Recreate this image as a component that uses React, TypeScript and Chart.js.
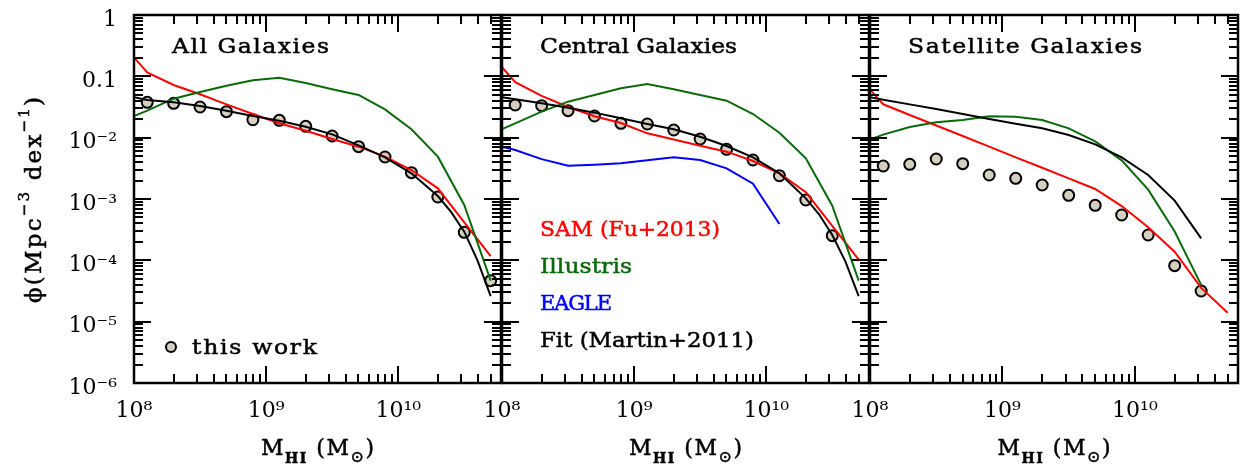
import React, { useEffect, useRef } from 'react';
import { Chart, registerables } from 'chart.js';

Chart.register(...registerables);

const FONT = '"DejaVu Serif", "DejaVu Sans", serif';
const W = 1247;
const H = 470;

// ---------- axis ticks ----------
const xTickExps = [8, 9, 10];
const xTickLabels = ['10⁸', '10⁹', '10¹⁰'];
const yTickExps = [-6, -5, -4, -3, -2, -1, 0];
const yTickLabels = ['10⁻⁶', '10⁻⁵', '10⁻⁴', '10⁻³', '10⁻²', '0.1', '1'];
const minorMantissas = [2, 3, 4, 5, 6, 7, 8, 9];
const xMin = 1e8;
const xMax = 6e10;
const yMin = 1e-6;
const yMax = 1;

// ---------- data: log10(M_HI) and log10(phi) ----------
const obsLogM = [8.1, 8.3, 8.5, 8.7, 8.9, 9.1, 9.3, 9.5, 9.7, 9.9, 10.1, 10.3, 10.5, 10.7];
const modelLogM = [8.0, 8.1, 8.3, 8.5, 8.7, 8.9, 9.1, 9.3, 9.5, 9.7, 9.9, 10.1, 10.3, 10.5, 10.7];
const fitLogM = [8.0, 8.1, 8.3, 8.5, 8.7, 8.9, 9.1, 9.3, 9.5, 9.7, 9.9, 10.1, 10.3, 10.4, 10.5, 10.6, 10.7];
const satFitLogM = [8.0, 8.1, 8.3, 8.5, 8.7, 8.9, 9.1, 9.3, 9.5, 9.7, 9.9, 10.1, 10.3, 10.5];

// All galaxies
const allObs = [-1.424, -1.44, -1.5, -1.576, -1.707, -1.717, -1.815, -1.973, -2.147, -2.315, -2.571, -2.967, -3.543, -4.332];
const allFit = [-1.342, -1.386, -1.424, -1.484, -1.56, -1.647, -1.723, -1.821, -1.946, -2.125, -2.321, -2.582, -2.951, -3.21, -3.533, -4.0, -4.582];
const allSAM = [-0.69, -0.935, -1.141, -1.293, -1.457, -1.614, -1.766, -1.886, -2.022, -2.147, -2.31, -2.527, -2.826, -3.38, -3.93];
const allIllustris = [-1.647, -1.56, -1.364, -1.256, -1.152, -1.065, -1.022, -1.11, -1.21, -1.304, -1.538, -1.864, -2.31, -3.098, -4.332];

// Central galaxies
const cenObs = [-1.467, -1.478, -1.56, -1.647, -1.766, -1.777, -1.875, -2.022, -2.19, -2.364, -2.62, -3.016, -3.598];
const cenFit = [-1.342, -1.375, -1.44, -1.511, -1.592, -1.685, -1.777, -1.864, -1.984, -2.136, -2.321, -2.582, -2.989, -3.25, -3.587, -4.02, -4.582];
const cenSAM = [-0.85, -1.095, -1.32, -1.5, -1.65, -1.76, -1.929, -2.03, -2.131, -2.228, -2.38, -2.582, -2.89, -3.44, -3.99];
const cenIllustris = [-1.859, -1.766, -1.576, -1.413, -1.304, -1.196, -1.125, -1.21, -1.304, -1.397, -1.614, -1.919, -2.337, -3.109, -4.332];
const cenEAGLE = [-2.147, -2.2, -2.35, -2.457, -2.44, -2.418, -2.37, -2.321, -2.364, -2.5, -2.75, -3.408];

// Satellite galaxies
const satObs = [-2.462, -2.435, -2.348, -2.424, -2.609, -2.663, -2.772, -2.94, -3.103, -3.261, -3.587, -4.087, -4.5];
const satFit = [-1.342, -1.381, -1.457, -1.533, -1.614, -1.696, -1.772, -1.848, -1.957, -2.109, -2.321, -2.609, -3.027, -3.641];
const satSAM = [-1.212, -1.456, -1.631, -1.802, -1.973, -2.147, -2.321, -2.49, -2.663, -2.837, -3.115, -3.46, -3.859, -4.45, -4.854];
const satIllustris = [-2.03, -1.95, -1.826, -1.75, -1.712, -1.652, -1.658, -1.712, -1.848, -2.06, -2.37, -2.848, -3.53, -4.4];

const RED = '#ff0000';
const GREEN = '#0a6a0a';
const BLUE = '#0000ff';
const BLACK = '#000000';
const DOT = '#d4cfbf';

const pts = (xs: number[], ys: number[]) => ys.map((y, i) => ({ x: Math.pow(10, xs[i]), y: Math.pow(10, y) }));

const lineDs = (xs: number[], ys: number[], color: string) => ({
  data: pts(xs, ys),
  showLine: true,
  borderColor: color,
  borderWidth: 2,
  pointRadius: 0,
  tension: 0,
  order: 1,
});
const obsDs = (xs: number[], ys: number[]) => ({
  data: pts(xs, ys),
  showLine: false,
  pointRadius: 5.5,
  pointBackgroundColor: DOT,
  pointBorderColor: BLACK,
  pointBorderWidth: 2,
  order: 5,
});

type Seg = { t: string; size: number; dy?: number; bold?: boolean };

function fitText(ctx: CanvasRenderingContext2D, text: string, x: number, y: number, width: number, color: string, size = 21) {
  ctx.save();
  ctx.font = `${size}px ${FONT}`;
  ctx.fillStyle = color;
  ctx.strokeStyle = color;
  ctx.lineWidth = 0.5;
  ctx.textAlign = 'left';
  ctx.textBaseline = 'alphabetic';
  (ctx as any).letterSpacing = '0px';
  const w0 = ctx.measureText(text).width;
  const n = [...text].length;
  const stretch = Math.min(1.12, Math.max(1, width / w0));
  const ls = n > 1 ? (width - w0 * stretch) / (n - 1) : 0;
  ctx.translate(x, y);
  ctx.scale(stretch, 1);
  (ctx as any).letterSpacing = `${ls / stretch}px`;
  ctx.fillText(text, 0, 0);
  ctx.strokeText(text, 0, 0);
  ctx.restore();
}

function drawRich(ctx: CanvasRenderingContext2D, segs: Seg[], cx: number, baseline: number, targetW: number) {
  ctx.save();
  ctx.fillStyle = '#000';
  ctx.strokeStyle = '#000';
  ctx.lineWidth = 0.5;
  ctx.textAlign = 'left';
  ctx.textBaseline = 'alphabetic';
  let nChars = 0;
  const widths = segs.map((s) => {
    ctx.font = `${s.bold ? 'bold ' : ''}${s.size}px ${FONT}`;
    (ctx as any).letterSpacing = '0px';
    nChars += [...s.t].length;
    return ctx.measureText(s.t).width;
  });
  const total = widths.reduce((a, b) => a + b, 0);
  const ls = (targetW - total) / Math.max(1, nChars - 1);
  let x = cx - targetW / 2;
  segs.forEach((s, i) => {
    ctx.font = `${s.bold ? 'bold ' : ''}${s.size}px ${FONT}`;
    (ctx as any).letterSpacing = `${ls}px`;
    ctx.fillText(s.t, x, baseline + (s.dy || 0));
    ctx.strokeText(s.t, x, baseline + (s.dy || 0));
    x += widths[i] + ls * [...s.t].length;
  });
  ctx.restore();
}

const xTitle: Seg[] = [
  { t: 'M', size: 22 },
  { t: 'HI', size: 14, bold: true, dy: 8 },
  { t: ' (M', size: 22 },
  { t: '⊙', size: 16, dy: 7 },
  { t: ')', size: 22 },
];
const yTitle: Seg[] = [
  { t: 'ϕ(Mpc', size: 23 },
  { t: '−3', size: 15, dy: -12 },
  { t: ' dex', size: 23 },
  { t: '−1', size: 15, dy: -12 },
  { t: ')', size: 23 },
];

type PanelCfg = {
  left: number;
  right: number;
  showY: boolean;
  title: string;
  titleX: number;
  titleW: number;
  datasets: any[];
  extra?: (ctx: CanvasRenderingContext2D) => void;
};

const PLOT_TOP = 15;
const PLOT_BOTTOM = 383;

function buildTicks(exps: number[], min: number, max: number) {
  const out: { value: number; major: boolean }[] = [];
  exps.forEach((e) => {
    const base = Math.pow(10, e);
    if (base >= min * 0.999 && base <= max * 1.001) out.push({ value: base, major: true });
    minorMantissas.forEach((m) => {
      const v = m * base;
      if (v >= min && v <= max * 1.001) out.push({ value: v, major: false });
    });
  });
  return out;
}

function labelFor(v: number, exps: number[], labels: string[]) {
  const l = Math.log10(v);
  const r = Math.round(l);
  if (Math.abs(l - r) > 1e-6) return '';
  const i = exps.indexOf(r);
  return i >= 0 ? labels[i] : '';
}

const zeroPad = (s: any) => {
  s.paddingTop = 0;
  s.paddingBottom = 0;
  s.paddingLeft = 0;
  s.paddingRight = 0;
};

function Panel({ cfg }: { cfg: PanelCfg }) {
  const ref = useRef<HTMLCanvasElement>(null);
  useEffect(() => {
    const canvas = ref.current!;
    const deco = {
      id: 'deco',
      afterDatasetsDraw(chart: any) {
        const { ctx, chartArea: a, scales } = chart;
        const x = scales.x;
        const y = scales.y;
        ctx.save();
        ctx.strokeStyle = '#000';
        ctx.lineWidth = 2;
        ctx.beginPath();
        x.ticks.forEach((t: any) => {
          const px = Math.round(x.getPixelForValue(t.value));
          const len = t.major ? 17 : 9;
          ctx.moveTo(px, a.bottom);
          ctx.lineTo(px, a.bottom - len);
          ctx.moveTo(px, a.top);
          ctx.lineTo(px, a.top + len);
        });
        y.ticks.forEach((t: any) => {
          const py = Math.round(y.getPixelForValue(t.value));
          const len = t.major ? 17 : 9;
          ctx.moveTo(a.left, py);
          ctx.lineTo(a.left + len, py);
          ctx.moveTo(a.right, py);
          ctx.lineTo(a.right - len, py);
        });
        ctx.stroke();
        ctx.lineWidth = 2.5;
        ctx.strokeRect(a.left, a.top, a.right - a.left, a.bottom - a.top);
        ctx.restore();
      },
      afterDraw(chart: any) {
        const { ctx, chartArea: a } = chart;
        fitText(ctx, cfg.title, cfg.titleX, 53, cfg.titleW, '#000');
        drawRich(ctx, xTitle, (a.left + a.right) / 2, 455, 113);
        if (cfg.extra) cfg.extra(ctx);
      },
    };
    const chart = new Chart(canvas, {
      type: 'scatter',
      data: { datasets: cfg.datasets },
      options: {
        responsive: false,
        animation: false,
        events: [],
        layout: {
          padding: { left: cfg.showY ? 0 : cfg.left, right: W - cfg.right, top: PLOT_TOP, bottom: 0 },
        },
        plugins: { legend: { display: false }, tooltip: { enabled: false } },
        scales: {
          x: {
            type: 'logarithmic',
            position: 'bottom',
            min: xMin,
            max: xMax,
            grid: { display: false, drawTicks: false },
            border: { display: false },
            afterBuildTicks: (s: any) => {
              s.ticks = buildTicks(xTickExps, xMin, xMax);
            },
            afterFit: (s: any) => {
              s.height = H - PLOT_BOTTOM;
              zeroPad(s);
            },
            ticks: {
              autoSkip: false,
              maxRotation: 0,
              minRotation: 0,
              padding: 15,
              color: '#000',
              font: { family: FONT, size: 22 },
              callback: (v: any) => labelFor(Number(v), xTickExps, xTickLabels),
            },
          },
          y: {
            type: 'logarithmic',
            position: 'left',
            min: yMin,
            max: yMax,
            grid: { display: false, drawTicks: false },
            border: { display: false },
            afterBuildTicks: (s: any) => {
              s.ticks = buildTicks(yTickExps, yMin, yMax);
            },
            afterFit: (s: any) => {
              s.width = cfg.showY ? cfg.left : 0;
              zeroPad(s);
            },
            ticks: {
              display: cfg.showY,
              autoSkip: false,
              padding: 17,
              labelOffset: 5,
              color: '#000',
              font: { family: FONT, size: 22 },
              callback: (v: any) => labelFor(Number(v), yTickExps, yTickLabels),
            },
          },
        },
      } as any,
      plugins: [deco],
    });
    return () => chart.destroy();
  }, []);
  return <canvas ref={ref} width={W} height={H} style={{ position: 'absolute', left: 0, top: 0 }} />;
}

const panels: PanelCfg[] = [
  {
    left: 134,
    right: 501,
    showY: true,
    title: 'All Galaxies',
    titleX: 172,
    titleW: 157,
    datasets: [
      obsDs(obsLogM, allObs),
      lineDs(fitLogM, allFit, BLACK),
      lineDs(modelLogM, allIllustris, GREEN),
      lineDs(modelLogM, allSAM, RED),
    ],
    extra: (ctx) => {
      ctx.save();
      ctx.beginPath();
      ctx.arc(171, 347, 5, 0, Math.PI * 2);
      ctx.fillStyle = DOT;
      ctx.fill();
      ctx.lineWidth = 2;
      ctx.strokeStyle = '#000';
      ctx.stroke();
      ctx.restore();
      fitText(ctx, 'this work', 192, 354, 125, '#000');
      ctx.save();
      ctx.translate(40.5, 200);
      ctx.rotate(-Math.PI / 2);
      drawRich(ctx, yTitle, 0, 0, 206);
      ctx.restore();
    },
  },
  {
    left: 502,
    right: 869,
    showY: false,
    title: 'Central Galaxies',
    titleX: 540,
    titleW: 197,
    datasets: [
      obsDs(obsLogM.slice(0, cenObs.length), cenObs),
      lineDs(modelLogM.slice(0, cenEAGLE.length), cenEAGLE, BLUE),
      lineDs(fitLogM, cenFit, BLACK),
      lineDs(modelLogM, cenIllustris, GREEN),
      lineDs(modelLogM, cenSAM, RED),
    ],
    extra: (ctx) => {
      fitText(ctx, 'SAM (Fu+2013)', 540, 236, 180, RED);
      fitText(ctx, 'Illustris', 540, 273, 92, GREEN);
      fitText(ctx, 'EAGLE', 540, 310, 72, BLUE);
      fitText(ctx, 'Fit (Martin+2011)', 540, 347, 214, BLACK);
    },
  },
  {
    left: 870,
    right: 1238,
    showY: false,
    title: 'Satellite Galaxies',
    titleX: 908,
    titleW: 234,
    datasets: [
      obsDs(obsLogM.slice(0, satObs.length), satObs),
      lineDs(satFitLogM, satFit, BLACK),
      lineDs(satFitLogM, satIllustris, GREEN),
      lineDs(modelLogM, satSAM, RED),
    ],
  },
];

export default function App() {
  return (
    <div style={{ position: 'absolute', left: 0, top: 0, width: W, height: H, background: '#fff' }}>
      {panels.map((p, i) => (
        <Panel key={i} cfg={p} />
      ))}
    </div>
  );
}
